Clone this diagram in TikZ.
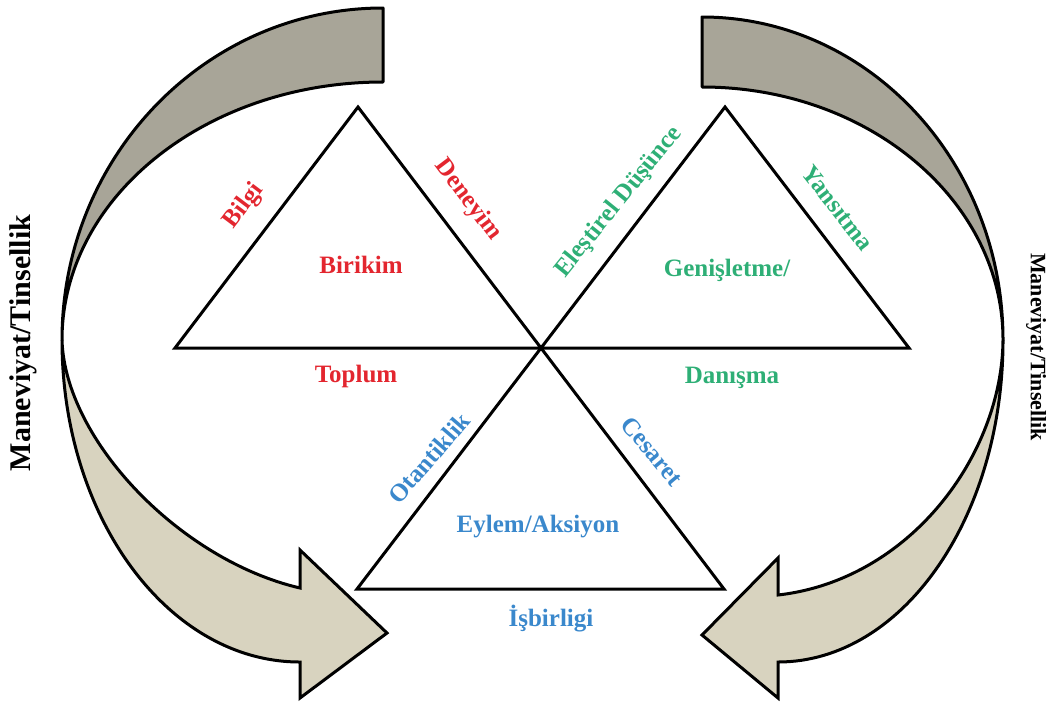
\documentclass[tikz,border=0pt]{standalone}
\usepackage{fontspec}
\setmainfont{Liberation Serif}
\definecolor{tred}{HTML}{E3262F}
\definecolor{tgreen}{HTML}{2EAF76}
\definecolor{tblue}{HTML}{3A88CC}
\definecolor{banddark}{HTML}{A8A598}
\definecolor{bandlight}{HTML}{D8D3BF}
\begin{document}
\begin{tikzpicture}[x=1pt,y=-1pt,
  lbl/.style={font=\fontsize{25}{30}\selectfont\bfseries, inner sep=0pt},
  tri/.style={draw=black, line width=3pt, line join=miter},
  bandup/.style={draw=black, line width=3pt, line join=round, fill=banddark},
  bandlow/.style={draw=black, line width=3pt, line join=miter, fill=bandlight}]
\useasboundingbox (0,0) rectangle (1048,702);
% ---- left curved arrow ----
\draw[bandup] (62,340) .. controls (62,156.6) and (205.7,8) .. (383,8) -- (383,82)
  .. controls (205.7,82) and (62,197.5) .. (62,340) -- cycle;
\draw[bandlow] (62,340) .. controls (62,517.8) and (168.6,662) .. (300,662) -- (300,698)
  -- (387,633) -- (300,550) -- (300,588) .. controls (180,560) and (65,440) .. (62,340) -- cycle;
% ---- right curved arrow ----
\draw[bandup] (1003,340) .. controls (1003,161.6) and (868.2,17) .. (702,17) -- (702,87)
  .. controls (868.2,87) and (1003,200.3) .. (1003,340) -- cycle;
\draw[bandlow] (1003,340) .. controls (1003,517.8) and (902.3,662) .. (778,662) -- (778,698)
  -- (702,635) -- (778,558) -- (778,595) .. controls (910,580) and (1002,455) .. (1003,340) -- cycle;
% ---- triangles ----
\coordinate (C) at (541,348);
\coordinate (T1a) at (358,107);
\coordinate (T1l) at (175,348);
\coordinate (T2a) at (725,107);
\coordinate (T2r) at (909,348);
\coordinate (T3l) at (357,589);
\coordinate (T3r) at (724,589);
\draw[tri] (T1a) -- (T1l) -- (C) -- cycle;
\draw[tri] (T2a) -- (C) -- (T2r) -- cycle;
\draw[tri] (C) -- (T3l) -- (T3r) -- cycle;
% ---- labels ----
\node[lbl, text=tred, rotate=53] (bilgi) at (244,206) {Bilgi};
\node[lbl, text=tred, rotate=-53] (deneyim) at (468,200) {Deneyim};
\node[lbl, text=tred] (birikim) at (361,265) {Birikim};
\node[lbl, text=tred] (toplum) at (356,376) {Toplum};
\node[lbl, text=tgreen, rotate=51] (elestirel) at (619,202) {Eleştirel Düşünce};
\node[lbl, text=tgreen, rotate=-52] (yansitma) at (838,208) {Yansıtma};
\node[lbl, text=tgreen] (genis) at (727,270) {Genişletme/};
\node[lbl, text=tgreen] (danisma) at (732,378) {Danışma};
\node[lbl, text=tblue, rotate=49] (otantik) at (429,458) {Otantiklik};
\node[lbl, text=tblue, rotate=-50] (cesaret) at (652,451) {Cesaret};
\node[lbl, text=tblue] (eylem) at (538,527) {Eylem/Aksiyon};
\node[lbl, text=tblue] (isbirligi) at (551,619) {İşbirligi};
\node[font=\fontsize{30}{34}\selectfont\bfseries, inner sep=0pt, rotate=90] (manL) at (23,343) {Maneviyat/Tinsellik};
\node[font=\fontsize{22}{26}\selectfont\bfseries, inner sep=0pt, rotate=-90] (manR) at (1036,347) {Maneviyat/Tinsellik};
\end{tikzpicture}
\end{document}
